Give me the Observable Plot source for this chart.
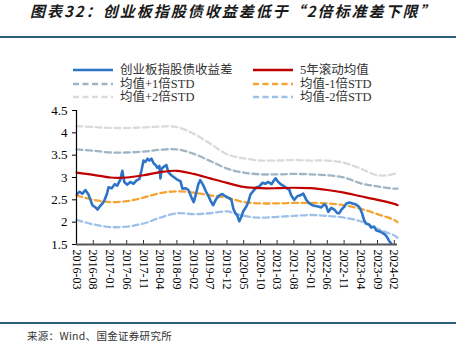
<!DOCTYPE html>
<html><head><meta charset="utf-8">
<script src="https://cdn.jsdelivr.net/npm/d3@7"></script>
<script src="https://cdn.jsdelivr.net/npm/@observablehq/plot@0.6"></script>
<style>
body{margin:0;background:#fff;width:456px;height:347px;position:relative;overflow:hidden;font-family:"Liberation Serif","Noto Sans CJK SC",serif;}
#title{position:absolute;left:30px;top:1px;font:italic bold 15px "Noto Sans CJK SC";letter-spacing:2px;color:#1a1a1a;white-space:nowrap;line-height:20px}
.rule{position:absolute;left:0;width:456px;height:2px;background:#2F5D7C}
.item{position:absolute;font-size:12.5px;color:#333;white-space:nowrap;line-height:12px;height:12px}
.sample{position:absolute}
#chart{position:absolute;left:0;top:100px}
#source{position:absolute;left:27px;top:328px;font:10.5px "Noto Sans CJK SC";color:#333;letter-spacing:0.3px;white-space:nowrap}
</style></head><body>
<div id="title"></div>
<div class="rule" style="top:36px"></div>
<div id="legend"></div>
<div id="chart"></div>
<div class="rule" style="top:322px"></div>
<div id="source"></div>
<script>
const titleText = "图表32：创业板指股债收益差低于“2倍标准差下限”";
const sourceText = "来源：Wind、国金证券研究所";

const seriesNames = ["创业板指股债收益差", "5年滚动均值", "均值+1倍STD", "均值-1倍STD", "均值+2倍STD", "均值-2倍STD"];
const seriesColors = ["#2E74C6", "#C00000", "#9FB5C3", "#F5A535", "#DADADA", "#9EC1EA"];
const seriesDashed = [false, false, true, true, true, true];

const xTickLabels = ["2016-03","2016-08","2017-01","2017-06","2017-11","2018-04","2018-09","2019-02","2019-07","2019-12","2020-05","2020-10","2021-03","2021-08","2022-01","2022-06","2022-11","2023-04","2023-09","2024-02"];
const yTickLabels = ["1.5","2","2.5","3","3.5","4","4.5"];
const xEndLabel = "2024-03";

// band series sampled at each tick month plus the end month
const bandDates = [...xTickLabels, xEndLabel];
const meanVals   = [3.11,3.06,3.00,3.00,3.05,3.12,3.15,3.08,2.98,2.88,2.79,2.76,2.76,2.77,2.76,2.72,2.66,2.58,2.50,2.41,2.38];
const plus1Vals  = [3.63,3.60,3.56,3.56,3.58,3.62,3.63,3.53,3.37,3.20,3.11,3.07,3.07,3.08,3.07,3.05,3.00,2.87,2.80,2.75,2.75];
const plus2Vals  = [4.15,4.13,4.11,4.11,4.12,4.14,4.13,3.98,3.76,3.52,3.43,3.38,3.38,3.39,3.38,3.38,3.33,3.20,3.05,3.08,3.12];
const minus1Vals = [2.60,2.50,2.45,2.47,2.55,2.65,2.69,2.66,2.60,2.55,2.45,2.42,2.42,2.43,2.43,2.42,2.38,2.30,2.18,2.05,2.00];
const minus2Vals = [2.05,1.95,1.89,1.90,1.97,2.10,2.20,2.18,2.20,2.24,2.14,2.10,2.12,2.14,2.16,2.14,2.10,2.02,1.85,1.70,1.65];

// main series (股债收益差)
const mainDates = ["2016-03-01","2016-03-28","2016-04-24","2016-05-21","2016-06-18","2016-07-06","2016-07-24","2016-08-21","2016-09-09","2016-09-27","2016-10-24","2016-11-12","2016-12-01","2016-12-18","2017-01-15","2017-02-12","2017-03-07","2017-04-04","2017-04-22","2017-05-10","2017-06-07","2017-07-04","2017-08-01","2017-08-28","2017-09-25","2017-10-13","2017-11-01","2017-11-19","2017-12-07","2017-12-25","2018-01-13","2018-02-01","2018-02-19","2018-03-07","2018-03-25","2018-04-04","2018-04-16","2018-05-10","2018-05-28","2018-06-15","2018-07-12","2018-08-09","2018-09-06","2018-10-03","2018-10-21","2018-11-18","2018-12-15","2019-01-12","2019-02-01","2019-02-18","2019-03-15","2019-04-01","2019-04-28","2019-05-25","2019-06-12","2019-07-10","2019-07-28","2019-08-25","2019-09-22","2019-10-19","2019-11-16","2019-12-13","2020-01-10","2020-01-28","2020-02-15","2020-03-04","2020-03-22","2020-04-10","2020-04-28","2020-05-25","2020-06-12","2020-07-01","2020-07-28","2020-08-25","2020-09-21","2020-10-18","2020-11-13","2020-12-12","2021-01-09","2021-01-27","2021-02-15","2021-03-12","2021-04-09","2021-05-06","2021-06-03","2021-06-21","2021-07-07","2021-08-04","2021-09-01","2021-09-28","2021-10-25","2021-11-22","2021-12-19","2022-01-16","2022-02-12","2022-03-10","2022-04-07","2022-05-04","2022-05-22","2022-06-10","2022-07-07","2022-08-04","2022-09-01","2022-09-19","2022-10-07","2022-11-04","2022-11-22","2022-12-19","2023-01-16","2023-02-13","2023-03-10","2023-03-28","2023-04-16","2023-05-01","2023-05-19","2023-06-16","2023-07-04","2023-08-01","2023-08-19","2023-09-07","2023-10-04","2023-10-22","2023-11-10","2023-11-28","2023-12-16","2024-01-04","2024-01-12"];
const mainVals = [2.62,2.68,2.64,2.72,2.62,2.50,2.38,2.33,2.28,2.35,2.42,2.50,2.62,2.78,2.76,2.85,2.82,2.95,3.15,2.90,2.84,2.90,2.86,2.93,2.97,3.15,3.38,3.35,3.42,3.38,3.42,3.32,3.28,3.22,3.26,2.98,3.20,3.25,3.28,3.12,3.05,3.00,2.95,2.92,2.75,2.76,2.72,2.55,2.45,2.60,2.85,2.94,2.83,2.68,2.60,2.45,2.38,2.52,2.60,2.63,2.58,2.55,2.50,2.30,2.20,2.15,2.02,2.12,2.25,2.35,2.45,2.62,2.70,2.78,2.80,2.88,2.86,2.90,2.85,2.92,2.98,2.90,2.84,2.80,2.75,2.72,2.60,2.50,2.58,2.60,2.64,2.50,2.42,2.38,2.36,2.35,2.33,2.40,2.36,2.23,2.32,2.28,2.20,2.20,2.28,2.35,2.42,2.44,2.42,2.40,2.36,2.30,2.18,2.05,1.97,1.95,1.88,1.90,1.82,1.80,1.78,1.75,1.72,1.66,1.58,1.52,1.49];

// ---- HTML text parts
document.getElementById("title").textContent = titleText;
document.getElementById("source").textContent = sourceText;

const legendCols = [73, 253];
const legendRows = [70, 84, 97];
const legend = document.getElementById("legend");
seriesNames.forEach((name, i) => {
  const col = i % 2, row = Math.floor(i / 2);
  const x0 = legendCols[col], y0 = legendRows[row];
  const svg = document.createElementNS("http://www.w3.org/2000/svg", "svg");
  svg.setAttribute("class", "sample");
  svg.setAttribute("width", 40); svg.setAttribute("height", 6);
  svg.style.left = x0 + "px"; svg.style.top = (y0 - 3) + "px";
  const ln = document.createElementNS("http://www.w3.org/2000/svg", "line");
  ln.setAttribute("x1", 0); ln.setAttribute("x2", 40); ln.setAttribute("y1", 3); ln.setAttribute("y2", 3);
  ln.setAttribute("stroke", seriesColors[i]); ln.setAttribute("stroke-width", 2.5);
  if (seriesDashed[i]) ln.setAttribute("stroke-dasharray", "6,3.5");
  svg.appendChild(ln);
  legend.appendChild(svg);
  const t = document.createElement("div");
  t.className = "item";
  t.textContent = name;
  t.style.left = (x0 + 47) + "px"; t.style.top = (y0 - 6) + "px";
  legend.appendChild(t);
});

// ---- Plot
const parseM = d3.utcParse("%Y-%m");
const parseD = d3.utcParse("%Y-%m-%d");
const xTicks = xTickLabels.map(parseM);
const yTicks = yTickLabels.map(Number);
const yMin = d3.min(yTicks), yMax = d3.max(yTicks);

const mainData = mainDates.map((d, i) => ({date: parseD(d), v: mainVals[i]}));
const bandSets = [
  {vals: plus2Vals, idx: 4},
  {vals: plus1Vals, idx: 2},
  {vals: minus2Vals, idx: 5},
  {vals: minus1Vals, idx: 3},
  {vals: meanVals, idx: 1}
];
const bandMarks = bandSets.map(({vals, idx}) => Plot.line(
  bandDates.map((d, i) => ({date: parseM(d), v: vals[i]})),
  {x: "date", y: "v", stroke: seriesColors[idx], strokeWidth: seriesDashed[idx] ? 2.3 : 2.2,
   strokeDasharray: seriesDashed[idx] ? "6,3.5" : null, curve: "catmull-rom"}
));

const chart = Plot.plot({
  width: 456,
  height: 200,
  marginTop: 10,
  marginBottom: 56,
  marginLeft: 76,
  marginRight: 59,
  style: {fontFamily: "'Liberation Serif', serif", fontSize: "12px", color: "#000", background: "transparent", overflow: "visible"},
  x: {type: "utc", domain: [xTicks[0], parseM(xEndLabel)]},
  y: {domain: [yMin, yMax]},
  marks: [
    ...bandMarks.slice(0, 4),
    Plot.line(mainData, {x: "date", y: "v", stroke: seriesColors[0], strokeWidth: 2.6, clip: true}),
    bandMarks[4],
    Plot.axisY({ticks: yTicks, tickFormat: d => String(d), tickSize: 4, tickPadding: 5, fontSize: 13, stroke: "#000", label: null}),
    Plot.axisX({ticks: xTicks, tickFormat: d3.utcFormat("%Y-%m"), tickSize: 0, tickRotate: 90, tickPadding: 5, fontSize: 12, label: null}),
    Plot.ruleX(xTicks, {x: d => d, y1: yMin, y2: yMin, insetBottom: 4, stroke: "#333", strokeWidth: 1}),
    Plot.ruleX([xTicks[0]], {stroke: "#000", strokeWidth: 1.2}),
    Plot.ruleY([yMin], {stroke: "#555", strokeWidth: 2})
  ]
});
document.getElementById("chart").appendChild(chart);
</script>
</body></html>
